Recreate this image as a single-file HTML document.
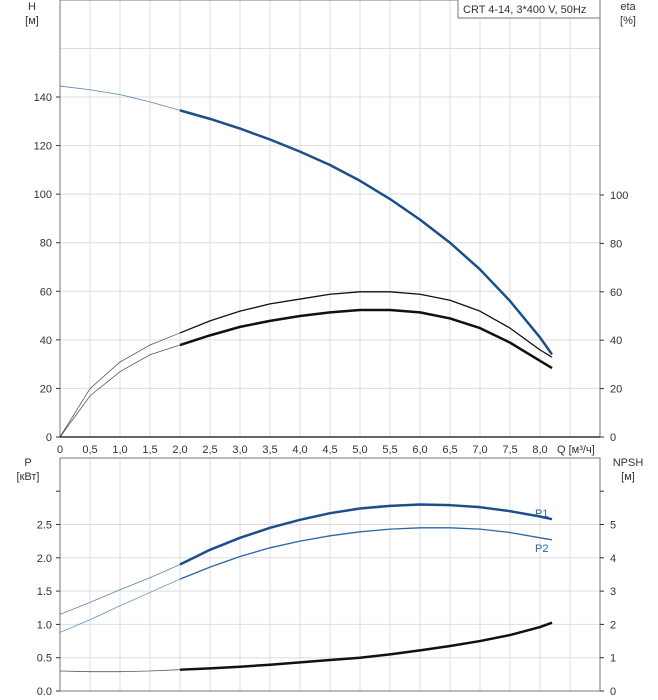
<!DOCTYPE html>
<html><head><meta charset="utf-8"><style>
body{margin:0;background:#fff;font-family:"Liberation Sans",sans-serif}
svg{display:block}
text{font-size:11px;fill:#333;font-family:"Liberation Sans",sans-serif}
</style></head><body>
<svg id="c" width="658" height="700"></svg>
<script>
const qVals=[0,0.5,1,1.5,2,2.5,3,3.5,4,4.5,5,5.5,6,6.5,7,7.5,8,8.2];
const headVals=[144.5,143,141,138,134.5,131,127,122.5,117.5,112,105.5,98,89.5,80,69,56,41,34];
const etaPumpVals=[0,20,31,38,43,48,52,55,57,59,60,60,59,56.5,52,45,36,33];
const etaTotalVals=[0,17,27,34,38,42,45.5,48,50,51.5,52.5,52.5,51.5,49,45,39,31.5,28.5];
const p1Vals=[1.15,1.33,1.52,1.7,1.9,2.12,2.3,2.45,2.57,2.67,2.74,2.78,2.8,2.79,2.76,2.7,2.62,2.58];
const p2Vals=[0.88,1.07,1.28,1.48,1.68,1.86,2.02,2.15,2.25,2.33,2.39,2.43,2.45,2.45,2.43,2.38,2.3,2.27];
const npshVals=[0.6,0.58,0.58,0.6,0.64,0.68,0.73,0.79,0.86,0.93,1.0,1.1,1.22,1.35,1.5,1.68,1.92,2.05];
const xTickLabels=["0","0,5","1,0","1,5","2,0","2,5","3,0","3,5","4,0","4,5","5,0","5,5","6,0","6,5","7,0","7,5","8,0"];
const hTicks=[0,20,40,60,80,100,120,140];
const etaTicks=[0,20,40,60,80,100];
const pTicks=["0.0","0.5","1.0","1.5","2.0","2.5"];
const npshTicks=[0,1,2,3,4,5];

const S=document.getElementById('c'),NS='http://www.w3.org/2000/svg';
function el(t,a,name,txt){const e=document.createElementNS(NS,t);for(const k in a)e.setAttribute(k,a[k]);


if(txt!==undefined)e.textContent=txt;S.appendChild(e);return e;}
const X0=60,X1=600;
const xs=q=>X0+q*60;
const yH=v=>437-v*48.57/20;
const yEta=v=>437-v*2.42;
const yP=v=>691-v*66.6;
const yN=v=>691-v*33.3;

// grids
for(let i=1;i<18;i++){el('line',{x1:xs(i*0.5),x2:xs(i*0.5),y1:0,y2:437,stroke:'#ddd'},'top-grid-v');
el('line',{x1:xs(i*0.5),x2:xs(i*0.5),y1:458,y2:691,stroke:'#ddd'},'bottom-grid-v');}
for(let v=20;v<=180;v+=20)el('line',{x1:X0,x2:X1,y1:yH(v),y2:yH(v),stroke:'#ddd'},'top-grid-h');
for(let v=0.5;v<=2.51;v+=0.5)el('line',{x1:X0,x2:X1,y1:yP(v),y2:yP(v),stroke:'#ddd'},'bottom-grid-h');
// frames
el('rect',{x:X0,y:0,width:540,height:437,fill:'none',stroke:'#777'},'top-plot-frame');
el('rect',{x:X0,y:458,width:540,height:233,fill:'none',stroke:'#777'},'bottom-plot-frame');
el('line',{x1:X0,x2:X1,y1:437,y2:437,stroke:'#333','stroke-width':1.5},'x-axis');
// ticks
hTicks.forEach(v=>{el('line',{x1:X0-4,x2:X0,y1:yH(v),y2:yH(v),stroke:'#333'},'h-tick');
el('text',{x:X0-8,y:yH(v)+4,'text-anchor':'end'},'h-tick-label',v);});
etaTicks.forEach(v=>{el('line',{x1:X1,x2:X1+4,y1:yEta(v),y2:yEta(v),stroke:'#333'},'eta-tick');
el('text',{x:X1+10,y:yEta(v)+4},'eta-tick-label',v);});
xTickLabels.forEach((t,i)=>{el('text',{x:xs(i*0.5),y:453,'text-anchor':'middle'},'x-tick-label',t);});
el('text',{x:557,y:453},'x-axis-title','Q [м³/ч]');
pTicks.forEach(t=>{const v=+t;el('line',{x1:X0-4,x2:X0,y1:yP(v),y2:yP(v),stroke:'#333'},'p-tick');
el('text',{x:X0-8,y:yP(v)+4,'text-anchor':'end'},'p-tick-label',t);});
el('line',{x1:X0-4,x2:X0,y1:yP(3),y2:yP(3),stroke:'#333'},'p-tick');
npshTicks.forEach(v=>{el('line',{x1:X1,x2:X1+4,y1:yN(v),y2:yN(v),stroke:'#333'},'npsh-tick');
el('text',{x:X1+10,y:yN(v)+4},'npsh-tick-label',v);});
el('line',{x1:X1,x2:X1+4,y1:yN(6),y2:yN(6),stroke:'#333'},'npsh-tick');
// axis titles
el('text',{x:32,y:10,'text-anchor':'middle'},'h-axis-title','H');
el('text',{x:32,y:24,'text-anchor':'middle'},'h-axis-unit','[м]');
el('text',{x:628,y:10,'text-anchor':'middle'},'eta-axis-title','eta');
el('text',{x:628,y:24,'text-anchor':'middle'},'eta-axis-unit','[%]');
el('text',{x:28,y:466,'text-anchor':'middle'},'p-axis-title','P');
el('text',{x:28,y:480,'text-anchor':'middle'},'p-axis-unit','[кВт]');
el('text',{x:628,y:466,'text-anchor':'middle'},'npsh-axis-title','NPSH');
el('text',{x:628,y:480,'text-anchor':'middle'},'npsh-axis-unit','[м]');
// title box
el('rect',{x:458,y:-1,width:142,height:19,fill:'#fff',stroke:'#777'},'title-box');
el('text',{x:463,y:13},'title-text','CRT 4-14, 3*400 V, 50Hz');

function curve(vals,yf,color,name){
  const pts=qVals.map((q,i)=>[xs(q),yf(vals[i])]);
  const thin=pts.filter((p,i)=>qVals[i]<=2).map(p=>p.join(',')).join(' ');
  const thick=pts.filter((p,i)=>qVals[i]>=2).map(p=>p.join(',')).join(' ');
  el('polyline',{points:thin,fill:'none',stroke:color,'stroke-width':0.8,'stroke-opacity':0.7},name+'-extrapolated');
  el('polyline',{points:thick,fill:'none',stroke:color,'stroke-width':name.includes('thin')?1.3:2.5,'stroke-linejoin':'round'},name);
}
curve(headVals,yH,'#1a4f8a','head-curve');
curve(etaPumpVals,yEta,'#111','eta-pump-curve-thin');
curve(etaTotalVals,yEta,'#111','eta-total-curve');
curve(p1Vals,yP,'#1a4f8a','p1-curve');
curve(p2Vals,yP,'#2a66a8','p2-curve-thin');
curve(npshVals,yN,'#111','npsh-curve');
el('text',{x:535,y:517,style:'fill:#2a66a8'},'p1-label','P1');
el('text',{x:535,y:552,style:'fill:#2a66a8'},'p2-label','P2');
</script>
</body></html>
